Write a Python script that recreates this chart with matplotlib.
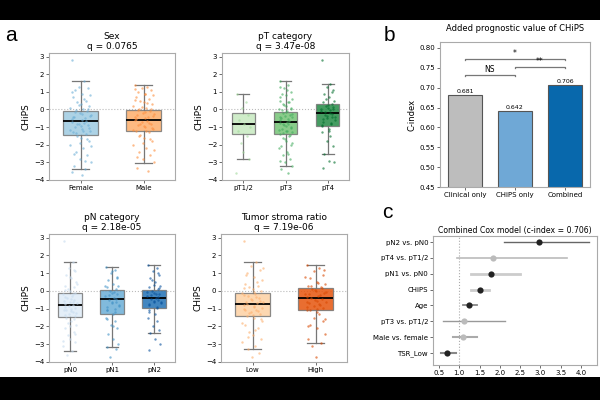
import matplotlib
matplotlib.use("Agg")
import matplotlib.pyplot as plt
from matplotlib.patches import Rectangle

plt.rcParams['font.family'] = ['DejaVu Sans']

# ---- panel a: CHiPS by clinical group (box stats + points)
sex_groups = ["Female", "Male"]
sex_stats = [(-3.4, -1.45, -0.65, -0.1, 1.6), (-3.05, -1.25, -0.6, -0.02, 1.4)]
sex_points = [
    [2.8, 1.6, 1.3, 1.2, 1.1, 0.9, 0.8, 0.7, 0.5, 0.4, 0.3, 0.2, 0.1, 0.05, -0.05, -0.1, -0.2, -0.3,
     -0.4, -0.5, -0.55, -0.6, -0.7, -0.75, -0.8, -0.9, -1.0, -1.1, -1.2, -1.3, -1.4, -1.5, -1.6,
     -1.8, -2.0, -2.2, -2.4, -2.6, -2.8, -3.0, -3.2, -3.4, -3.55, -3.7,
     1.0, 0.6, 0.25, 0.0, -0.15, -0.25, -0.35, -0.45, -0.65, -0.85, -0.95, -1.05, -1.15, -1.25,
     -1.35, -1.7, -1.9, -2.1, -2.5, -2.9],
    [1.4, 1.3, 1.2, 1.1, 1.0, 0.9, 0.8, 0.7, 0.6, 0.5, 0.4, 0.3, 0.2, 0.1, 0.0, -0.1, -0.2, -0.25,
     -0.3, -0.4, -0.45, -0.5, -0.6, -0.65, -0.7, -0.8, -0.9, -1.0, -1.1, -1.2, -1.3, -1.45, -1.6,
     -1.8, -2.0, -2.2, -2.4, -2.6, -2.8, -3.0, -3.3, -3.5,
     1.15, 0.85, 0.55, 0.35, 0.15, 0.05, -0.05, -0.15, -0.35, -0.55, -0.75, -0.85, -0.95, -1.05,
     -1.15, -1.25, -1.5, -1.7, -1.9, -2.3, -2.7],
]
pt_groups = ["pT1/2", "pT3", "pT4"]
pt_stats = [(-2.8, -1.4, -0.8, -0.2, 0.9), (-3.2, -1.38, -0.7, -0.12, 1.6), (-2.5, -0.95, -0.2, 0.32, 1.45)]
pt_points = [
    [0.9, 0.4, 0.1, -0.3, -0.6, -0.8, -1.0, -1.2, -1.5, -1.9, -2.4, -2.8, -3.6],
    [1.6, 1.4, 1.2, 1.0, 0.9, 0.8, 0.6, 0.5, 0.4, 0.3, 0.2, 0.1, 0.0, -0.1, -0.2, -0.3, -0.35,
     -0.4, -0.5, -0.55, -0.6, -0.7, -0.75, -0.8, -0.9, -1.0, -1.1, -1.2, -1.3, -1.4, -1.5, -1.6,
     -1.8, -2.0, -2.2, -2.4, -2.6, -2.8, -3.0, -3.2, -3.4, -3.6,
     1.3, 1.1, 0.7, 0.45, 0.25, 0.05, -0.05, -0.15, -0.25, -0.45, -0.65, -0.85, -0.95, -1.05,
     -1.15, -1.25, -1.35, -1.45, -1.7, -1.9, -2.1, -2.5, -2.9],
    [2.8, 1.45, 1.3, 1.1, 0.9, 0.7, 0.5, 0.4, 0.3, 0.2, 0.1, 0.0, -0.1, -0.2, -0.3, -0.4, -0.5,
     -0.6, -0.7, -0.8, -0.95, -1.1, -1.3, -1.5, -1.8, -2.1, -2.5, -2.9, -3.0, -3.3,
     1.0, 0.6, 0.25, 0.15, 0.05, -0.05, -0.15, -0.25, -0.35, -0.45, -0.55, -0.75, -0.9, -1.2],
]
pn_groups = ["pN0", "pN1", "pN2"]
pn_stats = [(-3.4, -1.45, -0.78, -0.12, 1.6), (-3.15, -1.28, -0.48, 0.05, 1.35), (-2.38, -0.95, -0.42, 0.05, 1.45)]
pn_points = [
    [2.8, 1.6, 1.3, 1.1, 0.9, 0.7, 0.5, 0.3, 0.2, 0.1, 0.0, -0.1, -0.2, -0.3, -0.4, -0.5, -0.6,
     -0.7, -0.75, -0.8, -0.9, -1.0, -1.1, -1.2, -1.3, -1.4, -1.5, -1.7, -1.9, -2.1, -2.3, -2.5,
     -2.7, -2.9, -3.1, -3.4, -3.6,
     1.2, 0.8, 0.4, 0.05, -0.15, -0.35, -0.45, -0.55, -0.65, -0.85, -0.95, -1.05, -1.15, -1.25,
     -1.35, -1.6, -1.8, -2.0, -2.4, -2.8],
    [1.35, 1.2, 1.0, 0.8, 0.6, 0.4, 0.3, 0.2, 0.1, 0.0, -0.1, -0.2, -0.3, -0.4, -0.5, -0.6,
     -0.7, -0.8, -0.9, -1.0, -1.1, -1.3, -1.5, -1.7, -1.9, -2.1, -2.4, -2.7, -3.0, -3.15, -3.25, -3.7,
     1.1, 0.7, 0.25, -0.05, -0.25, -0.45, -0.65, -0.85, -1.05, -1.2, -1.6, -2.0],
    [1.45, 1.3, 1.1, 0.9, 0.7, 0.5, 0.3, 0.2, 0.1, 0.0, -0.1, -0.2, -0.3, -0.4, -0.45, -0.5,
     -0.6, -0.7, -0.8, -0.95, -1.1, -1.3, -1.5, -1.7, -2.0, -2.2, -2.38, -2.7, -3.0, -3.3,
     1.0, 0.6, 0.35, 0.15, -0.05, -0.15, -0.25, -0.35, -0.55, -0.65, -0.75, -0.9, -1.2],
]
tsr_groups = ["Low", "High"]
tsr_stats = [(-3.28, -1.4, -0.72, -0.12, 1.6), (-2.95, -1.1, -0.4, 0.18, 1.45)]
tsr_points = [
    [2.8, 1.6, 1.4, 1.2, 1.0, 0.8, 0.6, 0.4, 0.3, 0.2, 0.1, 0.0, -0.1, -0.2, -0.3, -0.4, -0.5,
     -0.6, -0.65, -0.7, -0.8, -0.9, -1.0, -1.1, -1.2, -1.3, -1.4, -1.5, -1.7, -1.9, -2.1, -2.3,
     -2.5, -2.7, -2.9, -3.1, -3.28, -3.5, -3.7,
     1.3, 0.9, 0.5, 0.15, -0.05, -0.25, -0.35, -0.45, -0.55, -0.75, -0.85, -0.95, -1.05, -1.15,
     -1.25, -1.35, -1.6, -1.8, -2.2, -2.6],
    [1.45, 1.3, 1.1, 0.9, 0.7, 0.5, 0.4, 0.3, 0.2, 0.1, 0.0, -0.1, -0.2, -0.3, -0.4, -0.45,
     -0.5, -0.6, -0.7, -0.8, -0.9, -1.0, -1.1, -1.3, -1.5, -1.7, -1.9, -2.1, -2.4, -2.7, -2.95,
     -3.1, -3.7,
     1.2, 0.8, 0.45, 0.25, 0.15, 0.05, -0.05, -0.15, -0.25, -0.35, -0.55, -0.65, -0.75, -0.85,
     -0.95, -1.05, -1.2, -1.6, -2.0],
]

# ---- panel b: c-index
models = ["Clinical only", "CHiPS only", "Combined"]
cindex = [0.681, 0.642, 0.706]

# ---- panel c: Cox model
cox_terms = ["pN2 vs. pN0", "pT4 vs. pT1/2", "pN1 vs. pN0", "CHiPS", "Age",
             "pT3 vs. pT1/2", "Male vs. female", "TSR_Low"]
cox_hr = [2.98, 1.84, 1.79, 1.50, 1.24, 1.12, 1.09, 0.70]
cox_lo = [2.10, 0.94, 1.29, 1.30, 1.10, 0.59, 0.84, 0.54]
cox_hi = [4.20, 3.65, 2.51, 1.73, 1.44, 2.14, 1.43, 0.92]
cox_sig = [True, False, True, True, True, False, False, True]

# styling
JITTER = [-0.14, 0.06, -0.03, 0.12, -0.09, 0.02, 0.15, -0.12, 0.09, -0.05, 0.0, 0.13,
          -0.16, 0.04, -0.07, 0.1, -0.01, 0.16, -0.11, 0.07, -0.13, 0.03]
SPINE = "#aaaaaa"


def style_axes(ax, fs=5):
    for s in ax.spines.values():
        s.set_color(SPINE)
        s.set_linewidth(0.8)
    ax.tick_params(labelsize=fs, length=2, width=0.6, color="#555555", pad=1.5)


def box_panel(ax, title, groups, stats, points, box_colors, pt_colors):
    bstats = []
    for g, (lo, q1, med, q3, hi) in zip(groups, stats):
        bstats.append(dict(label=g, whislo=lo, q1=q1, med=med, q3=q3, whishi=hi, fliers=[]))
    ax.axhline(0, color="#bbbbbb", lw=0.8, ls=":", zorder=0)
    bp = ax.bxp(bstats, positions=range(len(groups)), widths=0.55, patch_artist=True,
                showfliers=False,
                boxprops=dict(edgecolor="#777777", linewidth=0.9),
                whiskerprops=dict(color="#777777", linewidth=0.9),
                capprops=dict(color="#777777", linewidth=0.9),
                medianprops=dict(color="black", linewidth=1.3))
    for patch, c in zip(bp["boxes"], box_colors):
        patch.set_facecolor(c)
        patch.set_alpha(0.85)
    for i, (vals, c) in enumerate(zip(points, pt_colors)):
        xs = [i + JITTER[k % len(JITTER)] for k in range(len(vals))]
        ax.scatter(xs, vals, s=3, color=c, alpha=0.6, linewidths=0, zorder=3)
    ax.set_xlim(-0.5, len(groups) - 0.5)
    ax.set_ylim(-4, 3.2)
    ax.set_yticks(range(-4, 4))
    ax.set_ylabel("CHiPS", fontsize=6.5, labelpad=2)
    ax.set_title(title, fontsize=6.5, pad=3, linespacing=1.1)
    style_axes(ax)


def px_axes(fig, x0, y0, x1, y1):
    return fig.add_axes([x0 / 600, (400 - y1) / 400, (x1 - x0) / 600, (y1 - y0) / 400])


fig = plt.figure(figsize=(6, 4), dpi=100, facecolor="black")
fig.patches.append(Rectangle((0, 23 / 400), 1, (377 - 20) / 400, transform=fig.transFigure,
                             facecolor="white", edgecolor="none", zorder=-10))

ax1 = px_axes(fig, 49, 53, 175, 180)
box_panel(ax1, "Sex\nq = 0.0765", sex_groups, sex_stats, sex_points,
          ["#9ecae1", "#fdae6b"], ["#6baed6", "#fd8d3c"])
ax2 = px_axes(fig, 222, 53, 349, 180)
box_panel(ax2, "pT category\nq = 3.47e-08", pt_groups, pt_stats, pt_points,
          ["#c7e9c0", "#74c476", "#238b45"], ["#a1d99b", "#41ab5d", "#006d2c"])
ax3 = px_axes(fig, 49, 234, 175, 362)
box_panel(ax3, "pN category\nq = 2.18e-05", pn_groups, pn_stats, pn_points,
          ["#deebf7", "#6baed6", "#2171b5"], ["#c6dbef", "#4292c6", "#08519c"])
ax4 = px_axes(fig, 221, 234, 347, 362)
box_panel(ax4, "Tumor stroma ratio\nq = 7.19e-06", tsr_groups, tsr_stats, tsr_points,
          ["#fdd0a2", "#e6550d"], ["#fdae6b", "#d94801"])

# panel b
axb = px_axes(fig, 440, 42, 590, 187)
bars = axb.bar(range(3), cindex, width=0.68, color=["#bdbdbd", "#6fa8d6", "#0868ac"],
               edgecolor="#555555", linewidth=0.8)
for i, v in enumerate(cindex):
    axb.text(i, v + 0.003, f"{v:.3f}", ha="center", va="bottom", fontsize=4.5)


def bracket(ax, x0, x1, y, label):
    h = 0.004
    ax.plot([x0, x0, x1, x1], [y - h, y, y, y - h], color="#777777", lw=0.9)
    ax.text((x0 + x1) / 2, y + 0.001, label, ha="center", va="bottom", fontsize=5.5)


bracket(axb, 0, 1, 0.733, "NS")
bracket(axb, 1, 2, 0.753, "**")
bracket(axb, 0, 2, 0.773, "*")
axb.set_xticks(range(3))
axb.set_xticklabels(models)
axb.set_xlim(-0.5, 2.5)
axb.set_ylim(0.45, 0.815)
axb.set_yticks([0.45, 0.50, 0.55, 0.60, 0.65, 0.70, 0.75, 0.80])
axb.set_yticklabels([f"{t:.2f}" for t in axb.get_yticks()])
axb.set_ylabel("C-index", fontsize=6, labelpad=2)
axb.set_title("Added prognostic value of CHiPS", fontsize=6, pad=8)
style_axes(axb, 5)

# panel c
axc = px_axes(fig, 433, 236, 597, 365)
n = len(cox_terms)
ypos = [n - 1 - i for i in range(n)]
line_cols = ["#666666", "#bbbbbb", "#cccccc", "#cccccc", "#888888", "#999999", "#aaaaaa", "#888888"]
line_w = [1.0, 1.2, 2.0, 2.0, 1.3, 1.0, 1.5, 1.5]
axc.axvline(1.0, color="#aaaaaa", lw=0.8, ls=":", zorder=0)
for y, hr, lo, hi, sig, lc, lw in zip(ypos, cox_hr, cox_lo, cox_hi, cox_sig, line_cols, line_w):
    axc.plot([lo, hi], [y, y], color=lc, lw=lw, zorder=1)
    axc.scatter([hr], [y], s=20, color="#222222" if sig else "#bbbbbb", zorder=2, linewidths=0)
axc.set_yticks(ypos)
axc.set_yticklabels(cox_terms)
axc.set_xlim(0.35, 4.4)
axc.set_ylim(-0.75, n - 0.62)
axc.set_xticks([0.5, 1.0, 1.5, 2.0, 2.5, 3.0, 3.5, 4.0])
axc.set_xlabel("Hazard ratio", fontsize=6, labelpad=1)
axc.set_title("Combined Cox model (c-index = 0.706)", fontsize=5.6, pad=2)
style_axes(axc, 5)

for lbl, x, y in [("a", 5, 26), ("b", 384, 26), ("c", 382, 203)]:
    fig.text(x / 600, 1 - y / 400, lbl, fontsize=15, family="Liberation Sans", va="top", ha="left")

fig.savefig("out.png", dpi=100, facecolor="black")
